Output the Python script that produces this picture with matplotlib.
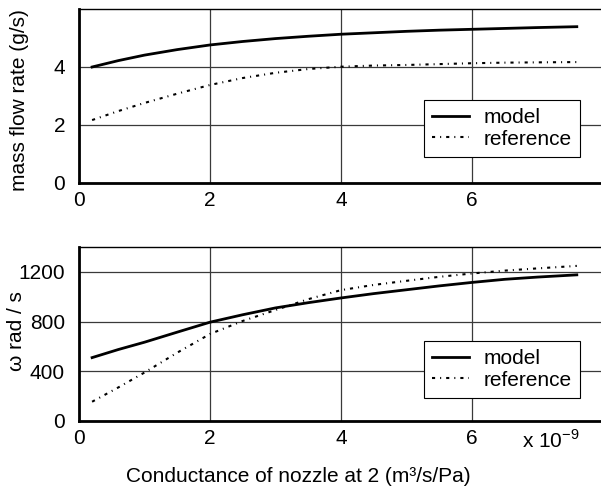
import matplotlib
matplotlib.use("Agg")
import matplotlib.pyplot as plt

plt.rcParams['font.family'] = ['Liberation Sans', 'DejaVu Sans']

# data (conductance in units of 1e-9)
x = [0.2, 0.6, 1.0, 1.5, 2.0, 2.5, 3.0, 3.5, 4.0, 4.5, 5.0, 5.5, 6.0, 6.5, 7.0, 7.6]
flow_model = [4.00, 4.22, 4.41, 4.60, 4.76, 4.88, 4.98, 5.06, 5.13, 5.18, 5.23, 5.27, 5.30, 5.33, 5.36, 5.39]
flow_ref = [2.17, 2.48, 2.76, 3.08, 3.38, 3.62, 3.80, 3.93, 4.01, 4.05, 4.07, 4.10, 4.13, 4.15, 4.16, 4.17]
omega_model = [510, 575, 634, 715, 795, 855, 910, 952, 990, 1025, 1056, 1087, 1115, 1140, 1158, 1176]
omega_ref = [155, 270, 390, 550, 700, 805, 893, 980, 1053, 1095, 1128, 1160, 1187, 1210, 1228, 1248]

flow_ticks = [0, 2, 4]
omega_ticks = [0, 400, 800, 1200]
x_ticks = [0, 2, 4, 6]

FS = 15
W, H = 601, 491
fig = plt.figure(figsize=(W / 100, H / 100), dpi=100)

def make_ax(top_px, bottom_px):
    left = 79 / W
    right = 603 / W
    return fig.add_axes([left, 1 - bottom_px / H, right - left, (bottom_px - top_px) / H])

ax1 = make_ax(9, 183)
ax2 = make_ax(247, 421)

ref_style = (0, (1.5, 2.4, 0.5, 2.4))
for ax, ym, yr, ticks, ylim, leg_y in [(ax1, flow_model, flow_ref, flow_ticks, 6, 0.149),
                                        (ax2, omega_model, omega_ref, omega_ticks, 1400, 0.132)]:
    ax.plot(x, ym, color='black', lw=2, label='model')
    ax.plot(x, yr, color='black', lw=1.5, linestyle=ref_style, label='reference')
    ax.set_xlim(0, 8)
    ax.set_ylim(0, ylim)
    ax.set_xticks(x_ticks)
    ax.set_yticks(ticks)
    ax.grid(True, color='#3a3a3a', lw=0.9)
    ax.tick_params(axis='y', length=0, labelsize=FS, pad=10)
    ax.tick_params(axis='x', length=0, labelsize=FS, pad=6)
    ax.spines['left'].set_linewidth(2)
    ax.spines['bottom'].set_linewidth(2)
    ax.spines['top'].set_linewidth(1)
    ax.spines['right'].set_visible(False)
    leg = ax.legend(loc='lower right', bbox_to_anchor=(0.956, leg_y), borderaxespad=0,
                    fontsize=FS, frameon=True, fancybox=False, edgecolor='black',
                    framealpha=1, handlelength=1.75, handletextpad=0.7,
                    borderpad=0.4, labelspacing=0.12)
    leg.get_frame().set_linewidth(0.8)

fig.text(20 / W, 1 - 100 / H, 'mass flow rate (g/s)', fontsize=FS, rotation=90,
         ha='center', va='center')
fig.text(17 / W, 1 - 331 / H, 'ω rad / s', fontsize=FS, rotation=90,
         ha='center', va='center')
fig.text(298 / W, 1 - 477 / H, 'Conductance of nozzle at 2 (m³/s/Pa)', fontsize=FS,
         ha='center', va='center')
fig.text(522 / W, 1 - 440 / H, r'x 10$^{\mathregular{-9}}$', fontsize=FS,
         ha='left', va='center')

fig.savefig('out.png', dpi=100)
